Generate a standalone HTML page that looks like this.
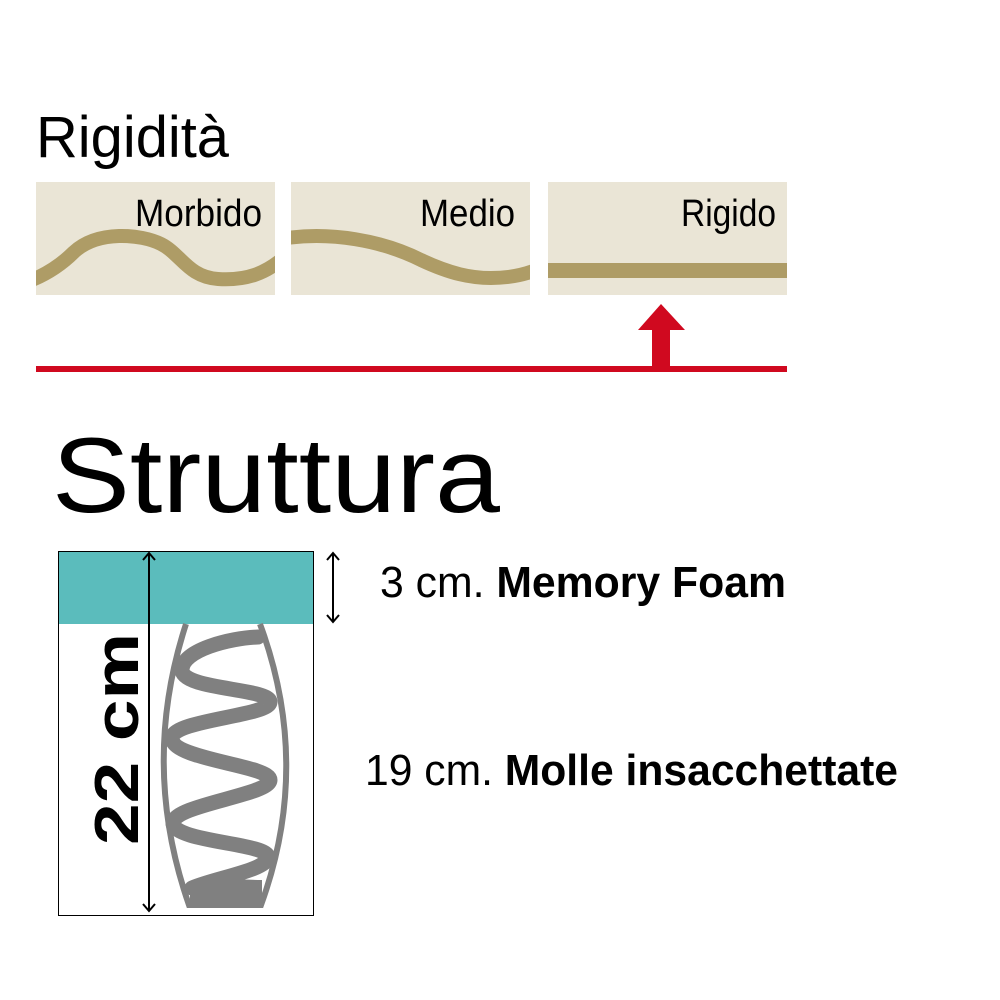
<!DOCTYPE html>
<html><head><meta charset="utf-8"><style>
html,body{margin:0;padding:0;background:#fff;}
svg{display:block}
</style></head><body>
<svg width="1000" height="1000" viewBox="0 0 1000 1000" xmlns="http://www.w3.org/2000/svg" font-family="Liberation Sans, sans-serif">
<text x="36" y="157" font-size="58" textLength="193" lengthAdjust="spacingAndGlyphs" fill="#000">Rigidità</text>
<rect x="36" y="182" width="239" height="113" fill="#eae5d6"/>
<rect x="291" y="182" width="239" height="113" fill="#eae5d6"/>
<rect x="548" y="182" width="239" height="113" fill="#eae5d6"/>
<text x="135" y="226" font-size="38" textLength="127" lengthAdjust="spacingAndGlyphs">Morbido</text>
<text x="420" y="226" font-size="38" textLength="95" lengthAdjust="spacingAndGlyphs">Medio</text>
<text x="681" y="226" font-size="38" textLength="95" lengthAdjust="spacingAndGlyphs">Rigido</text>
<svg x="36" y="182" width="239" height="113" overflow="hidden"><path d="M-4,98 C15,90 28,80 38,70 C62,48 105,52 125,62 C145,72 152,95 182,97 C212,99 230,90 245,78" fill="none" stroke="#ae9c66" stroke-width="14"/></svg>
<svg x="291" y="182" width="239" height="113" overflow="hidden"><path d="M-4,56 C40,50 90,58 130,78 C160,92 180,96 200,96 C220,96 235,92 245,88" fill="none" stroke="#ae9c66" stroke-width="14"/></svg>
<rect x="548" y="263" width="239" height="15" fill="#ae9c66"/>
<rect x="36" y="366" width="751" height="6" fill="#d0091f"/>
<polygon points="638,330 685,330 661,304" fill="#d0091f"/>
<rect x="652" y="329" width="18" height="39" fill="#d0091f"/>
<text x="52" y="512" font-size="107" textLength="448" lengthAdjust="spacingAndGlyphs" font-weight="300">Struttura</text>
<rect x="58" y="551" width="255" height="73" fill="#5bbcbc"/>
<rect x="58.5" y="551.5" width="255" height="364" fill="none" stroke="#000" stroke-width="1"/>
<path d="M186,624 Q140,765 189,905 L261,905 Q312,765 260,624" fill="none" stroke="#808080" stroke-width="6"/>
<path d="M258,637 C230,638 182,650 182,670 C182,690 270,688 270,702 C270,716 172,720 172,738 C172,760 270,765 270,780 C270,795 173,805 173,823 C173,842 268,843 268,857 C268,870 215,878 192,888" fill="none" stroke="#808080" stroke-width="15" stroke-linecap="round"/>
<path d="M190,884 C215,876 240,880 262,880 L262,903 L190,903 Z" fill="#808080"/>
<line x1="149" y1="553" x2="149" y2="911" stroke="#000" stroke-width="2"/>
<polyline points="143,560 149,553 155,560" fill="none" stroke="#000" stroke-width="2"/>
<polyline points="143,904 149,911 155,904" fill="none" stroke="#000" stroke-width="2"/>
<line x1="333" y1="553" x2="333" y2="622" stroke="#000" stroke-width="2"/>
<polyline points="327,560 333,553 339,560" fill="none" stroke="#000" stroke-width="2"/>
<polyline points="327,615 333,622 339,615" fill="none" stroke="#000" stroke-width="2"/>
<text transform="translate(138,845) rotate(-90)" font-size="62" font-weight="bold" textLength="212" lengthAdjust="spacingAndGlyphs">22 cm</text>
<text x="380" y="597" font-size="44" textLength="406" lengthAdjust="spacingAndGlyphs"><tspan>3 cm. </tspan><tspan font-weight="bold">Memory Foam</tspan></text>
<text x="365" y="785" font-size="44" textLength="533" lengthAdjust="spacingAndGlyphs"><tspan>19 cm. </tspan><tspan font-weight="bold">Molle insacchettate</tspan></text>
</svg>
</body></html>
